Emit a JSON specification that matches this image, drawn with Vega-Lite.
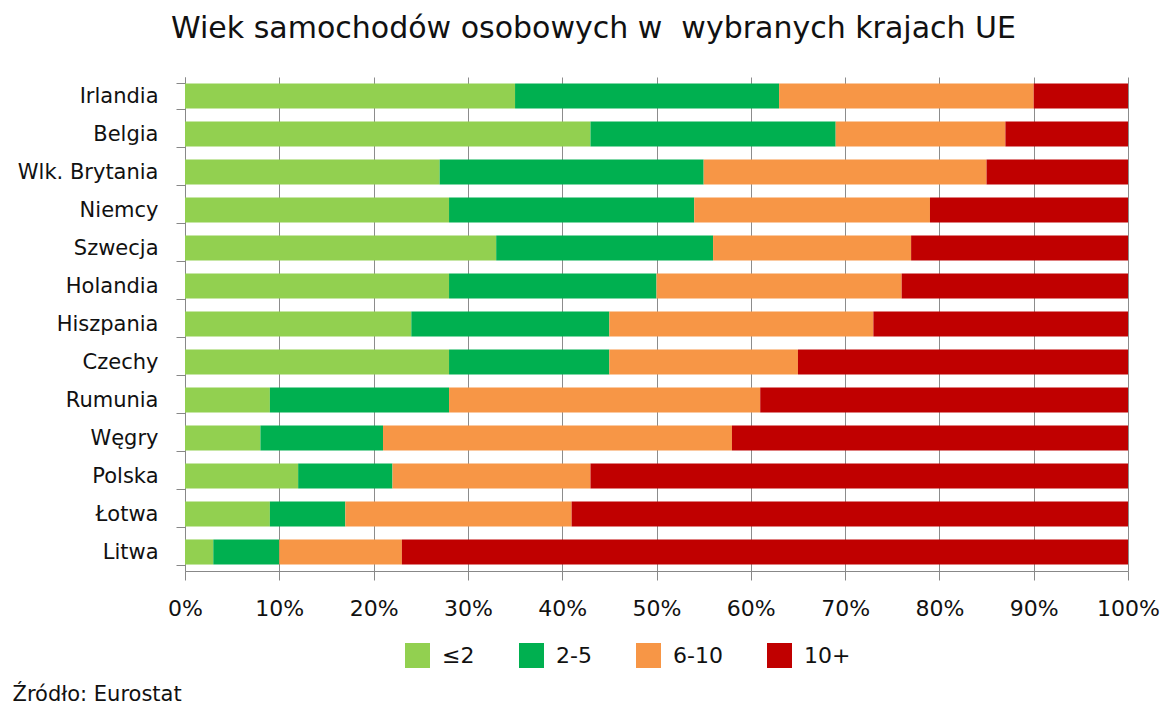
{
  "$schema": "https://vega.github.io/schema/vega-lite/v6.json",
  "autosize": {"type": "none"},
  "padding": {"left": 185, "top": 77, "right": 42, "bottom": 141},
  "width": 943,
  "height": 494,
  "background": "white",
  "title": {
    "text": "Wiek samochodów osobowych w \u00a0wybranych krajach UE",
    "font": "DejaVu Sans",
    "fontSize": 30,
    "fontWeight": "normal",
    "color": "#111111",
    "anchor": "middle",
    "dx": -63,
    "offset": 22
  },
  "data": {
    "values": [
      {"kraj": "Irlandia", "wiek": "≤2", "k": 1, "udzial": 35},
      {"kraj": "Irlandia", "wiek": "2-5", "k": 2, "udzial": 28},
      {"kraj": "Irlandia", "wiek": "6-10", "k": 3, "udzial": 27},
      {"kraj": "Irlandia", "wiek": "10+", "k": 4, "udzial": 10},
      {"kraj": "Belgia", "wiek": "≤2", "k": 1, "udzial": 43},
      {"kraj": "Belgia", "wiek": "2-5", "k": 2, "udzial": 26},
      {"kraj": "Belgia", "wiek": "6-10", "k": 3, "udzial": 18},
      {"kraj": "Belgia", "wiek": "10+", "k": 4, "udzial": 13},
      {"kraj": "Wlk. Brytania", "wiek": "≤2", "k": 1, "udzial": 27},
      {"kraj": "Wlk. Brytania", "wiek": "2-5", "k": 2, "udzial": 28},
      {"kraj": "Wlk. Brytania", "wiek": "6-10", "k": 3, "udzial": 30},
      {"kraj": "Wlk. Brytania", "wiek": "10+", "k": 4, "udzial": 15},
      {"kraj": "Niemcy", "wiek": "≤2", "k": 1, "udzial": 28},
      {"kraj": "Niemcy", "wiek": "2-5", "k": 2, "udzial": 26},
      {"kraj": "Niemcy", "wiek": "6-10", "k": 3, "udzial": 25},
      {"kraj": "Niemcy", "wiek": "10+", "k": 4, "udzial": 21},
      {"kraj": "Szwecja", "wiek": "≤2", "k": 1, "udzial": 33},
      {"kraj": "Szwecja", "wiek": "2-5", "k": 2, "udzial": 23},
      {"kraj": "Szwecja", "wiek": "6-10", "k": 3, "udzial": 21},
      {"kraj": "Szwecja", "wiek": "10+", "k": 4, "udzial": 23},
      {"kraj": "Holandia", "wiek": "≤2", "k": 1, "udzial": 28},
      {"kraj": "Holandia", "wiek": "2-5", "k": 2, "udzial": 22},
      {"kraj": "Holandia", "wiek": "6-10", "k": 3, "udzial": 26},
      {"kraj": "Holandia", "wiek": "10+", "k": 4, "udzial": 24},
      {"kraj": "Hiszpania", "wiek": "≤2", "k": 1, "udzial": 24},
      {"kraj": "Hiszpania", "wiek": "2-5", "k": 2, "udzial": 21},
      {"kraj": "Hiszpania", "wiek": "6-10", "k": 3, "udzial": 28},
      {"kraj": "Hiszpania", "wiek": "10+", "k": 4, "udzial": 27},
      {"kraj": "Czechy", "wiek": "≤2", "k": 1, "udzial": 28},
      {"kraj": "Czechy", "wiek": "2-5", "k": 2, "udzial": 17},
      {"kraj": "Czechy", "wiek": "6-10", "k": 3, "udzial": 20},
      {"kraj": "Czechy", "wiek": "10+", "k": 4, "udzial": 35},
      {"kraj": "Rumunia", "wiek": "≤2", "k": 1, "udzial": 9},
      {"kraj": "Rumunia", "wiek": "2-5", "k": 2, "udzial": 19},
      {"kraj": "Rumunia", "wiek": "6-10", "k": 3, "udzial": 33},
      {"kraj": "Rumunia", "wiek": "10+", "k": 4, "udzial": 39},
      {"kraj": "Węgry", "wiek": "≤2", "k": 1, "udzial": 8},
      {"kraj": "Węgry", "wiek": "2-5", "k": 2, "udzial": 13},
      {"kraj": "Węgry", "wiek": "6-10", "k": 3, "udzial": 37},
      {"kraj": "Węgry", "wiek": "10+", "k": 4, "udzial": 42},
      {"kraj": "Polska", "wiek": "≤2", "k": 1, "udzial": 12},
      {"kraj": "Polska", "wiek": "2-5", "k": 2, "udzial": 10},
      {"kraj": "Polska", "wiek": "6-10", "k": 3, "udzial": 21},
      {"kraj": "Polska", "wiek": "10+", "k": 4, "udzial": 57},
      {"kraj": "Łotwa", "wiek": "≤2", "k": 1, "udzial": 9},
      {"kraj": "Łotwa", "wiek": "2-5", "k": 2, "udzial": 8},
      {"kraj": "Łotwa", "wiek": "6-10", "k": 3, "udzial": 24},
      {"kraj": "Łotwa", "wiek": "10+", "k": 4, "udzial": 59},
      {"kraj": "Litwa", "wiek": "≤2", "k": 1, "udzial": 3},
      {"kraj": "Litwa", "wiek": "2-5", "k": 2, "udzial": 7},
      {"kraj": "Litwa", "wiek": "6-10", "k": 3, "udzial": 13},
      {"kraj": "Litwa", "wiek": "10+", "k": 4, "udzial": 77}
    ]
  },
  "mark": {"type": "bar"},
  "encoding": {
    "y": {
      "field": "kraj",
      "type": "nominal",
      "sort": null,
      "scale": {"paddingInner": 0.34, "paddingOuter": 0.17},
      "axis": {
        "title": null,
        "tickBand": "extent",
        "labelFont": "DejaVu Sans",
        "labelFontSize": 21,
        "labelColor": "#111111",
        "labelPadding": 18,
        "tickSize": 9,
        "tickColor": "#888888",
        "domainColor": "#888888",
        "grid": false
      }
    },
    "x": {
      "field": "udzial",
      "type": "quantitative",
      "stack": "normalize",
      "scale": {"domain": [0, 1], "nice": false},
      "axis": {
        "format": ".0%",
        "values": [0, 0.1, 0.2, 0.3, 0.4, 0.5, 0.6, 0.7, 0.8, 0.9, 1],
        "labelFont": "DejaVu Sans",
        "labelFontSize": 22,
        "labelColor": "#111111",
        "labelPadding": 18,
        "labelFlush": false,
        "labelOverlap": false,
        "tickSize": 9,
        "tickColor": "#888888",
        "domainColor": "#888888",
        "grid": true,
        "gridColor": "#8c8c8c",
        "gridWidth": 1,
        "title": "Źródło: Eurostat",
        "titleFont": "DejaVu Sans",
        "titleFontSize": 21,
        "titleFontWeight": "normal",
        "titleColor": "#111111",
        "titleAnchor": "start",
        "titleAlign": "left",
        "titleBaseline": "alphabetic",
        "titleX": -173,
        "titleY": 129
      }
    },
    "color": {
      "field": "wiek",
      "type": "nominal",
      "scale": {
        "domain": ["≤2", "2-5", "6-10", "10+"],
        "range": ["#92D050", "#00B050", "#F79646", "#C00000"]
      },
      "legend": {
        "title": null,
        "orient": "none",
        "direction": "horizontal",
        "legendX": 220,
        "legendY": 566,
        "symbolType": "square",
        "symbolSize": 625,
        "symbolStrokeWidth": 0,
        "labelFont": "DejaVu Sans",
        "labelFontSize": 22,
        "labelColor": "#111111",
        "labelOffset": 12,
        "columnPadding": 44
      }
    },
    "order": {"field": "k", "type": "quantitative"}
  },
  "config": {
    "view": {"stroke": null}
  }
}
